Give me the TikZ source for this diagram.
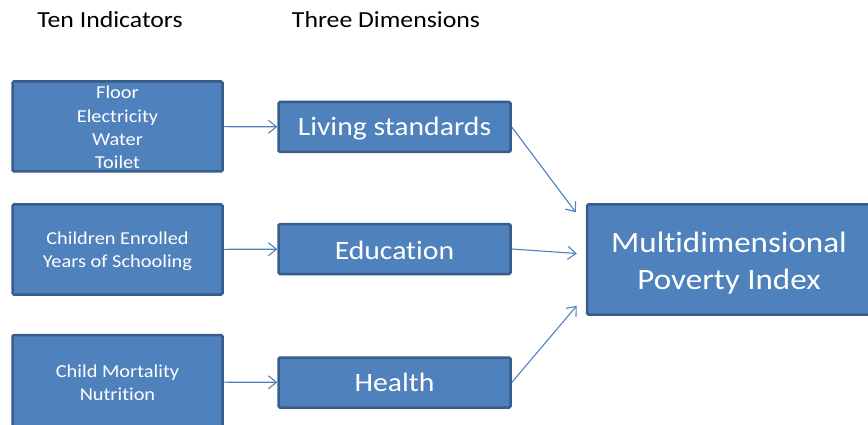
\documentclass[tikz,border=0pt]{standalone}
\usepackage{fontspec}
\setmainfont{Carlito}[FakeStretch=1.12, Ligatures=NoCommon]
\usetikzlibrary{arrows.meta}
\definecolor{boxfill}{HTML}{4F81BD}
\definecolor{boxline}{HTML}{385D8A}

\begin{document}
\begin{tikzpicture}[x=1pt,y=-1pt]
    \tikzstyle{darr}=[draw=boxfill, line width=1.1pt, -{Straight Barb[length=8pt,width=13pt]}]
    \tikzstyle{bbox}=[rectangle, rounded corners=1.5pt, draw=boxline, fill=boxfill, line width=2.5pt, inner sep=0pt]
    \tikzstyle{ibox}=[bbox, minimum width=210pt, minimum height=90pt]
    \tikzstyle{dbox}=[bbox, minimum width=232pt, minimum height=50pt]
    \tikzstyle{dtext}=[text=white, font=\fontsize{26.5}{31}\selectfont]
    \tikzstyle{itext}=[text=white, align=center, font=\fontsize{18.2}{23.3}\selectfont]
    \tikzstyle{head}=[font=\fontsize{23}{27}\selectfont]

    \useasboundingbox (0,0) rectangle (868,425);

    % headings
    \node[head] (ten) at (110,20) {Ten Indicators};
    \node[head] (three) at (386,20) {Three Dimensions};

    % indicators
    \node[ibox] (ind1) at (117.5,126.5) {};
    \node[itext, yshift=-3pt] at (ind1) {Assets\\Floor\\Electricity\\Water\\Toilet\\Cooking Fuel};
    \node[ibox] (ind2) at (117.5,249.5) {};
    \node[itext, yshift=-2pt] at (ind2) {Children Enrolled\\Years of Schooling};
    \node[ibox, minimum height=94pt] (ind3) at (117.5,382) {};
    \node[itext, yshift=-0.5pt] at (ind3) {Child Mortality\\Nutrition};

    % dimensions
    \node[dbox] (liv) at (394.5,127) {};
    \node[dtext, yshift=-2pt] at (liv) {Living standards};
    \node[dbox] (edu) at (394.5,249) {};
    \node[dtext, yshift=-1pt] at (edu) {Education};
    \node[dbox] (hea) at (394.5,382.5) {};
    \node[dtext] at (hea) {Health};

    % index
    \node[bbox, minimum width=284pt, minimum height=110pt] (mpi) at (729,259.5) {};
    \node[text=white, align=center, font=\fontsize{29.5}{37}\selectfont, yshift=-3.5pt]
          at (mpi) {Multidimensional\\Poverty Index};

    \draw[darr] (ind1) -- (liv);
    \draw[darr] (ind2) -- (edu);
    \draw[darr] (ind3) -- (hea);
    \draw[darr] (liv.east) -- ([xshift=-10pt,yshift=-9pt]mpi.north west);
    \draw[darr] (edu.east) -- ([xshift=-9pt,yshift=6pt]mpi.west);
    \draw[darr] (hea.east) -- ([xshift=-9pt,yshift=10pt]mpi.south west);
\end{tikzpicture}
\end{document}
